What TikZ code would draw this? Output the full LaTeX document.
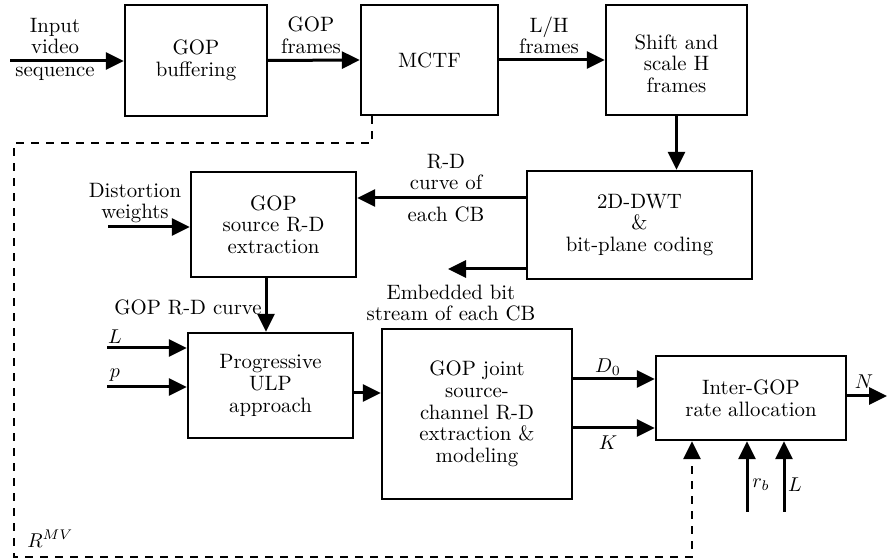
\documentclass[tikz,border=0pt]{standalone}
\usetikzlibrary{arrows.meta,calc}
\tikzset{
  blk/.style={draw, line width=1.2pt, inner sep=0pt, align=center},
  arr/.style={line width=1.5pt, -{Triangle[length=9pt,width=8.5pt]}},
  lbl/.style={align=center, inner sep=0pt},
  fb/.style={line width=1.4pt, dash pattern=on 4pt off 3.5pt},
}
\begin{document}
\begin{tikzpicture}[x=0.5pt, y=-0.5pt, font=\fontsize{10.4}{10.8}\selectfont]
\useasboundingbox (0,0) rectangle (888,560);

% processing blocks
\node[blk, minimum width=71pt,   minimum height=55.5pt] (buf)   at (196,60.5)  {GOP\\buffering};
\node[blk, minimum width=68.5pt, minimum height=55pt]   (mctf)  at (429.5,60)  {MCTF};
\node[blk, minimum width=70.5pt, minimum height=55pt]   (shift) at (676.5,60)  {};
\node[lbl] (t-shift) at (676.5,63.5) {Shift and\\scale H\\frames};
\node[blk, minimum width=112.5pt,minimum height=54pt]   (dwt)   at (639.5,225) {2D-DWT\\\&\\bit-plane coding};
\node[blk, minimum width=82.5pt, minimum height=52.5pt] (src)   at (273.5,224.5) {GOP\\source R-D\\extraction};
\node[blk, minimum width=82.5pt, minimum height=52.5pt] (ulp)   at (270.5,385.5) {Progressive\\ULP\\approach};
\node[blk, minimum width=95pt,   minimum height=85pt]   (joint) at (477,414)   {GOP joint\\source-\\channel R-D\\extraction \&\\modeling};
\node[blk, minimum width=95pt,   minimum height=42pt]   (inter) at (751,398)   {Inter-GOP\\rate allocation};

% top row
\coordinate (in) at (10,61);
\draw[arr] (in) -- (in -| buf.west);
\draw[arr] (buf.east) -- (mctf.west);
\draw[arr] (mctf.east) -- (shift.west);
\draw[arr] (shift.south) -- (shift.south |- dwt.north);
\node[lbl] (t-in)  at (55,36) {Input\\video};
\node[lbl] (t-seq) at (55,74) {sequence};
\node[lbl] (t-gf)  at (311,35) {GOP\\frames};
\node[lbl] (t-lh)  at (549,35.5) {L/H\\frames};

% coder outputs
\coordinate (rd) at ($(dwt.west)+(0,-27)$);
\draw[arr] (rd) -- (rd -| src.east);
\coordinate (eb) at ($(dwt.west)+(0,44)$);
\coordinate (ebend) at (448,269);
\draw[arr] (eb) -- (ebend);
\node[lbl] (t-rd1) at (446,172) {R-D\\curve of};
\node[lbl] (t-rd2) at (446,214) {each CB};
\node[lbl] (t-eb)  at (451,303) {Embedded bit\\stream of each CB};

% source R-D extraction
\coordinate (dw) at (108,227);
\draw[arr] (dw) -- (dw -| src.west);
\node[lbl] (t-dw) at (135,203) {Distortion\\weights};
\coordinate (gc) at (266,0);
\draw[arr] (gc |- src.south) -- (gc |- ulp.north);
\node[lbl, anchor=east] (t-gc) at (262,307) {GOP R-D curve};

% progressive ULP inputs
\coordinate (inL) at (107,348);
\coordinate (inp) at (107,387);
\draw[arr] (inL) -- (inL -| ulp.west);
\draw[arr] (inp) -- (inp -| ulp.west);
\node[lbl] (t-L1) at (115,337) {$L$};
\node[lbl] (t-p)  at (115,375) {$p$};
\coordinate (u1) at ($(ulp.east)+(0,7.5)$);
\draw[arr] (u1) -- (u1 -| joint.west);

% joint model to rate allocation
\coordinate (d0) at (572,379);
\coordinate (kk) at (572,428);
\draw[arr] (d0 -| joint.east) -- (d0 -| inter.west);
\draw[arr] (kk -| joint.east) -- (kk -| inter.west);
\node[lbl] (t-d0) at (608,367) {$D_0$};
\node[lbl] (t-k)  at (608,443) {$K$};

% rate allocation in/out
\coordinate (nout) at (887,396);
\draw[arr] (nout -| inter.east) -- (nout);
\node[lbl] (t-n) at (864,382) {$N$};
\coordinate (rb) at (747,512);
\coordinate (lb) at (784,512);
\draw[arr] (rb) -- (rb |- inter.south);
\draw[arr] (lb) -- (lb |- inter.south);
\node[lbl] (t-rb) at (761,485) {$r_b$};
\node[lbl] (t-L2) at (795,485) {$L$};

% motion vector rate feedback
\coordinate (mv) at (372,143);
\coordinate (fbr) at (692,557);
\draw[arr, fb] (mv |- mctf.south) -- (mv) -- (14,143) -- (14,557) -- (fbr) -- (fbr |- inter.south);
\node[lbl, anchor=base west] (t-mv) at (27,547) {$R^{MV}$};
\end{tikzpicture}
\end{document}
